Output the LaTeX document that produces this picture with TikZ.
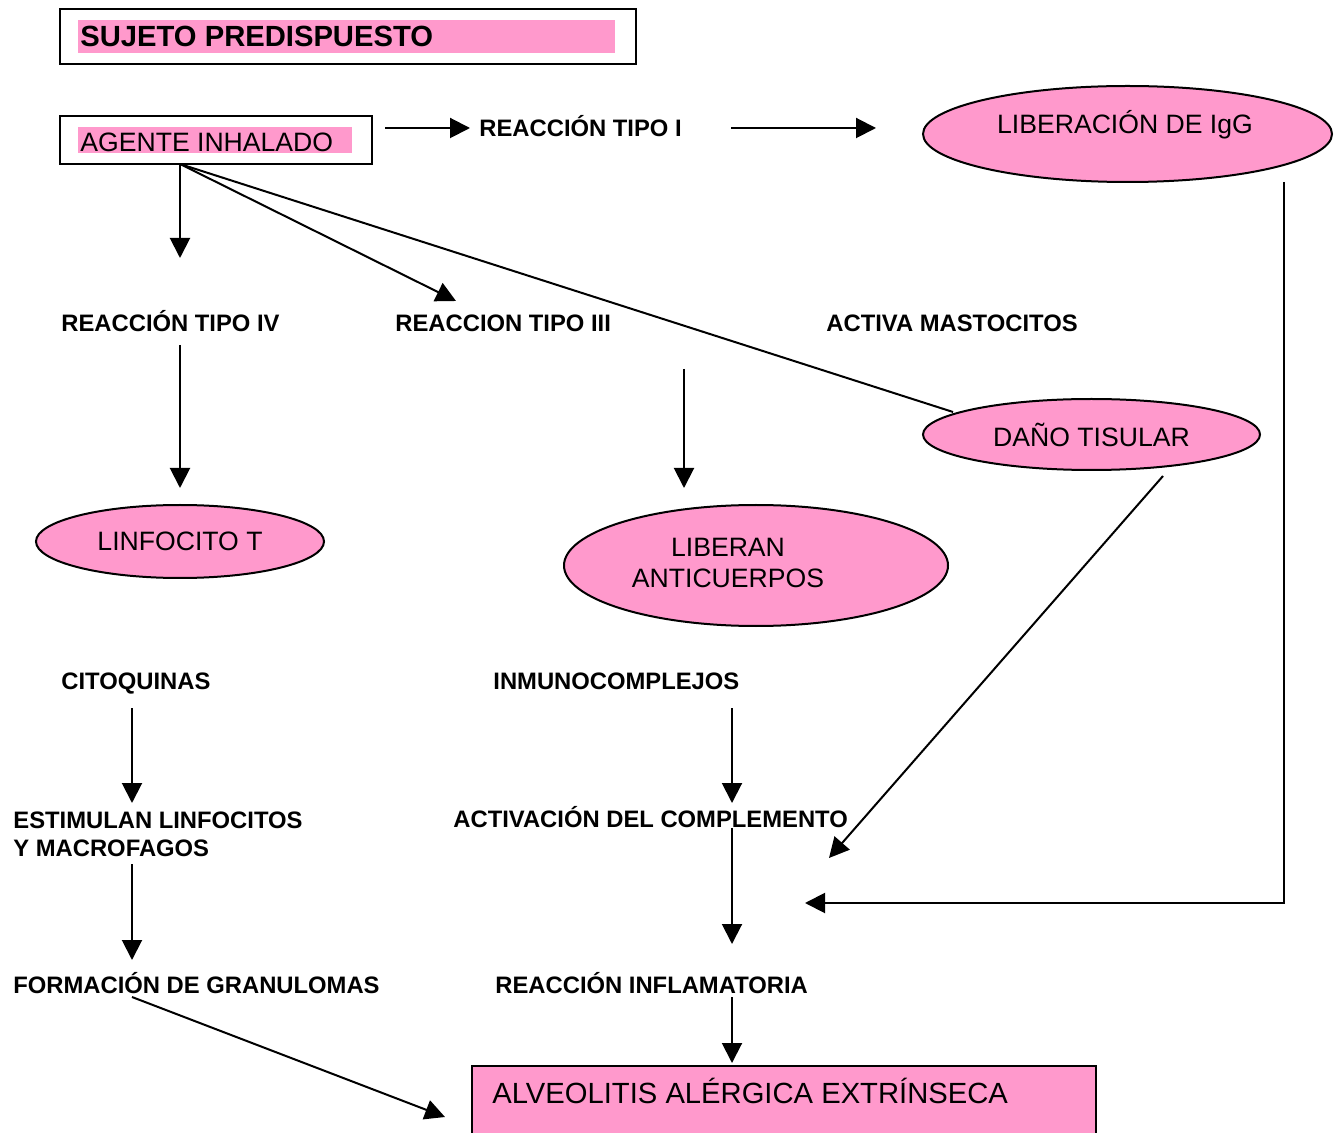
\documentclass[tikz,border=0pt]{standalone}
\usepackage{fontspec}
\setmainfont{Liberation Sans}
\usetikzlibrary{arrows.meta,shapes.geometric}
\definecolor{pinkfill}{HTML}{FF99CC}
\tikzset{
  lbl/.style={font=\fontsize{11.9}{14}\selectfont\bfseries, inner sep=0pt, anchor=base west},
  reg/.style={font=\fontsize{13.3}{15.5}\selectfont, inner sep=0pt},
  oval/.style={ellipse, draw, line width=1pt, fill=pinkfill, inner sep=0pt},
  arr/.style={line width=1pt, -{Triangle[length=10pt,width=10pt]}},
  ln/.style={line width=1pt},
  frame/.style={draw, line width=1pt, inner sep=0pt},
}
\begin{document}
\begin{tikzpicture}[x=0.5pt,y=-0.5pt]
\useasboundingbox (0,0) rectangle (1338,1133);
\clip (0,0) rectangle (1338,1133);

% SUJETO PREDISPUESTO
\node[frame, minimum width=288pt, minimum height=27.5pt] (suj) at (348,36.5) {};
\fill[pinkfill] (78,20) rectangle (615,53);
\node[font=\fontsize{14.6}{17}\selectfont\bfseries, inner sep=0pt, anchor=base west] (sujt) at (80,47) {SUJETO PREDISPUESTO};

% AGENTE INHALADO
\node[frame, minimum width=156pt, minimum height=24pt] (age) at (216,140) {};
\fill[pinkfill] (78,127) rectangle (352,153);
\node[reg, anchor=base west] (aget) at (80,152) {AGENTE INHALADO};

% bold labels
\node[lbl] (r1) at (479,136.5) {REACCIÓN TIPO I};
\node[lbl] (r4) at (61,331.5) {REACCIÓN TIPO IV};
\node[lbl] (r3) at (395,331.5) {REACCION TIPO III};
\node[lbl] (am) at (826,331.5) {ACTIVA MASTOCITOS};
\node[lbl] (cit) at (61,689.5) {CITOQUINAS};
\node[lbl] (inm) at (493,689.5) {INMUNOCOMPLEJOS};
\node[lbl, anchor=west, align=left, font=\fontsize{11.9}{14}\selectfont\bfseries] (est) at (13,834) {ESTIMULAN LINFOCITOS\\Y MACROFAGOS};
\node[lbl] (act) at (453,827.5) {ACTIVACIÓN DEL COMPLEMENTO};
\node[lbl] (gran) at (13,993.5) {FORMACIÓN DE GRANULOMAS};
\node[lbl] (rin) at (495,993.5) {REACCIÓN INFLAMATORIA};

% ellipses
\node[oval, minimum width=204.5pt, minimum height=48pt] (igg) at (1127.5,134) {};
\node[reg, anchor=base] (iggt) at (1125,134) {LIBERACIÓN DE IgG};
\node[oval, minimum width=168.5pt, minimum height=35.5pt, reg] (dano) at (1091.5,434.5) {DAÑO TISULAR};
\node[oval, minimum width=144pt, minimum height=36.5pt, reg] (linf) at (180,541.5) {LINFOCITO T};
\node[oval, minimum width=192pt, minimum height=60.5pt] (lib) at (756,565.5) {};
\node[reg, align=center] (libt) at (728,563) {LIBERAN\\ANTICUERPOS};

% ALVEOLITIS box
\node[frame, fill=pinkfill, minimum width=312pt, minimum height=40pt, anchor=north west] (alv) at (471,1065) {};
\node[font=\fontsize{14.6}{17}\selectfont, inner sep=0pt, anchor=base west] (alvt) at (492,1103.5) {ALVEOLITIS ALÉRGICA EXTRÍNSECA};

% connector end points
\coordinate (p0) at (180,164);
\coordinate (a1s) at (385,128);  \coordinate (a1e) at (470,128);
\coordinate (a2s) at (731,128);  \coordinate (a2e) at (876,128);
\coordinate (g1) at (1284,182);  \coordinate (g2) at (1284,903); \coordinate (g3) at (805,903);
\coordinate (a3e) at (180,258);
\coordinate (a4e) at (456,301);
\coordinate (dn) at (953,412);
\coordinate (a5s) at (180,345);  \coordinate (a5e) at (180,488);
\coordinate (a6s) at (684,369);  \coordinate (a6e) at (684,488);
\coordinate (a7s) at (1163,476); \coordinate (a7e) at (829,858);
\coordinate (a8s) at (132,708);  \coordinate (a8e) at (132,803);
\coordinate (a9s) at (732,708);  \coordinate (a9e) at (732,803);
\coordinate (a10s) at (132,864); \coordinate (a10e) at (132,960);
\coordinate (a11s) at (732,828); \coordinate (a11e) at (732,944);
\coordinate (a12s) at (732,997); \coordinate (a12e) at (732,1063);
\coordinate (a13s) at (132,997); \coordinate (a13e) at (445,1117);

\draw[arr] (a1s) -- (a1e);
\draw[arr] (a2s) -- (a2e);
\draw[arr] (g1) -- (g2) -- (g3);
\draw[arr] (p0) -- (a3e);
\draw[arr] (p0) -- (a4e);
\draw[ln] (p0) -- (dn);
\draw[arr] (a5s) -- (a5e);
\draw[arr] (a6s) -- (a6e);
\draw[arr] (a7s) -- (a7e);
\draw[arr] (a8s) -- (a8e);
\draw[arr] (a9s) -- (a9e);
\draw[arr] (a10s) -- (a10e);
\draw[arr] (a11s) -- (a11e);
\draw[arr] (a12s) -- (a12e);
\draw[arr] (a13s) -- (a13e);
\end{tikzpicture}
\end{document}
